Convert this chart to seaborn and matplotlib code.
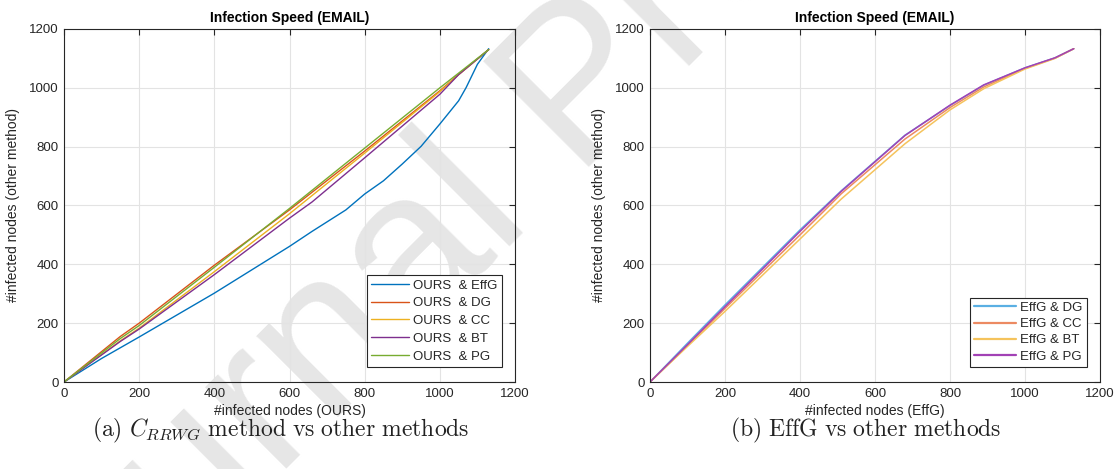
import numpy as np
import pandas as pd
import matplotlib
matplotlib.use("Agg")
import matplotlib.pyplot as plt
import seaborn as sns

# ---- data ----
# Panel (a): OURS vs other methods
a_effg_x = [0, 100, 200, 400, 600, 660, 750, 800, 850, 900, 950, 1000, 1050, 1070, 1100, 1130]
a_effg_y = [0, 80, 153, 302, 461, 512, 585, 639, 684, 741, 801, 877, 956, 1001, 1080, 1133]
a_dg_x = [0, 150, 200, 400, 600, 800, 1000, 1050, 1130]
a_dg_y = [0, 155, 200, 397, 585, 785, 990, 1045, 1130]
a_cc_x = [0, 150, 200, 400, 600, 800, 1000, 1050, 1130]
a_cc_y = [0, 140, 183, 375, 572, 778, 987, 1045, 1130]
a_bt_x = [0, 150, 200, 400, 600, 660, 800, 1000, 1050, 1130]
a_bt_y = [0, 138, 180, 365, 557, 612, 762, 978, 1045, 1130]
a_pg_x = [0, 150, 200, 400, 600, 800, 1000, 1050, 1130]
a_pg_y = [0, 148, 192, 390, 590, 795, 1000, 1050, 1130]
a_labels = ["OURS  & EffG", "OURS  & DG", "OURS  & CC", "OURS  & BT", "OURS  & PG"]

# Panel (b): EffG vs other methods
b_dg_x = [0, 100, 200, 400, 510, 680, 800, 890, 1000, 1080, 1130]
b_dg_y = [0, 132, 262, 517, 650, 839, 940, 1009, 1068, 1102, 1133]
b_cc_x = [0, 100, 200, 400, 510, 680, 800, 890, 1000, 1080, 1130]
b_cc_y = [0, 124, 250, 500, 640, 826, 933, 1003, 1066, 1101, 1133]
b_bt_x = [0, 100, 200, 400, 510, 680, 800, 890, 1000, 1080, 1130]
b_bt_y = [0, 121, 240, 486, 622, 810, 925, 997, 1064, 1100, 1133]
b_pg_x = [0, 100, 200, 400, 510, 680, 800, 890, 1000, 1080, 1130]
b_pg_y = [0, 127, 256, 512, 648, 838, 941, 1010, 1068, 1102, 1133]
b_labels = ["EffG & DG", "EffG & CC", "EffG & BT", "EffG & PG"]

ticks = [0, 200, 400, 600, 800, 1000, 1200]

a_colors = ["#0072BD", "#D95319", "#EDB120", "#7E2F8E", "#77AC30"]
b_colors = ["#5aafe3", "#ec8a62", "#f5c35c", "#a241b5"]


def long_df(xs, ys, labels):
    frames = []
    for x, y, lab in zip(xs, ys, labels):
        frames.append(pd.DataFrame({"x": x, "y": y, "series": lab}))
    return pd.concat(frames, ignore_index=True)


df_a = long_df([a_effg_x, a_dg_x, a_cc_x, a_bt_x, a_pg_x],
               [a_effg_y, a_dg_y, a_cc_y, a_bt_y, a_pg_y], a_labels)
df_b = long_df([b_dg_x, b_cc_x, b_bt_x, b_pg_x],
               [b_dg_y, b_cc_y, b_bt_y, b_pg_y], b_labels)

sns.set_theme(style="white")
plt.rcParams["font.family"] = ["Liberation Sans", "DejaVu Sans"]
plt.rcParams["mathtext.fontset"] = "cm"

W, H = 1116, 469
fig = plt.figure(figsize=(W / 100, H / 100), dpi=100)
fig.patch.set_facecolor("white")

ax1 = fig.add_axes([64 / W, 1 - 382 / H, 451 / W, 353 / H])
ax2 = fig.add_axes([650 / W, 1 - 382 / H, 450 / W, 353 / H])

panels = [
    (ax1, df_a, a_labels, a_colors, "#infected nodes (OURS)", 1.0, 1.0, 2.9, 0.42),
    (ax2, df_b, b_labels, b_colors, "#infected nodes (EffG)", 1.1, 1.6, 3.2, 0.3),
]

for ax, df, labels, colors, xlabel, lw, leg_lw, hl, ls in panels:
    ax.set_facecolor("none")
    sns.lineplot(data=df, x="x", y="y", hue="series", hue_order=labels,
                 palette=colors, sort=False, estimator=None, units="series",
                 linewidth=lw, ax=ax)
    ax.set_xlim(0, 1200)
    ax.set_ylim(0, 1200)
    ax.set_xticks(ticks)
    ax.set_yticks(ticks)
    ax.grid(True, color="#e3e3e3", linewidth=0.8)
    ax.set_axisbelow(True)
    for sp in ax.spines.values():
        sp.set_visible(True)
        sp.set_color("#262626")
        sp.set_linewidth(0.8)
    ax.tick_params(axis="both", direction="in", length=4, width=0.8, color="#262626",
                   top=True, right=True, labelsize=9.5, labelcolor="#262626", pad=4)
    ax.set_xlabel(xlabel, fontsize=10, color="#262626", labelpad=3)
    ax.set_ylabel("#infected nodes (other method)", fontsize=10, color="#262626", labelpad=6)
    ax.set_title("Infection Speed (EMAIL)", fontsize=10, fontweight="bold", color="black", pad=5)
    leg = ax.legend(loc="lower right", fontsize=9.5, frameon=True, fancybox=False,
                    edgecolor="#262626", framealpha=1, handlelength=hl,
                    borderpad=0.3, labelspacing=ls, handletextpad=0.3,
                    bbox_to_anchor=(0.985, 0.025))
    leg.get_frame().set_linewidth(0.8)
    for h in leg.get_lines():
        h.set_linewidth(leg_lw)

fig.text(281 / W, 1 - 430 / H, r"$\mathrm{(a)}\ C_{RRWG}\ \mathrm{method\ vs\ other\ methods}$",
         ha="center", va="center", fontsize=17, color="#222222")
fig.text(866 / W, 1 - 430 / H, r"$\mathrm{(b)\ EffG\ vs\ other\ methods}$",
         ha="center", va="center", fontsize=17, color="#222222")

# watermark (baseline start of the text, rotated about that point)
fig.text(28 / W, 1 - 727 / H, "Journal Pre-proof", rotation=45, rotation_mode="anchor",
         ha="left", va="baseline", fontsize=157, color="#e6e6e6", zorder=-1,
         family=["Liberation Sans", "DejaVu Sans"])

fig.savefig("out.png", dpi=100, facecolor="white")
